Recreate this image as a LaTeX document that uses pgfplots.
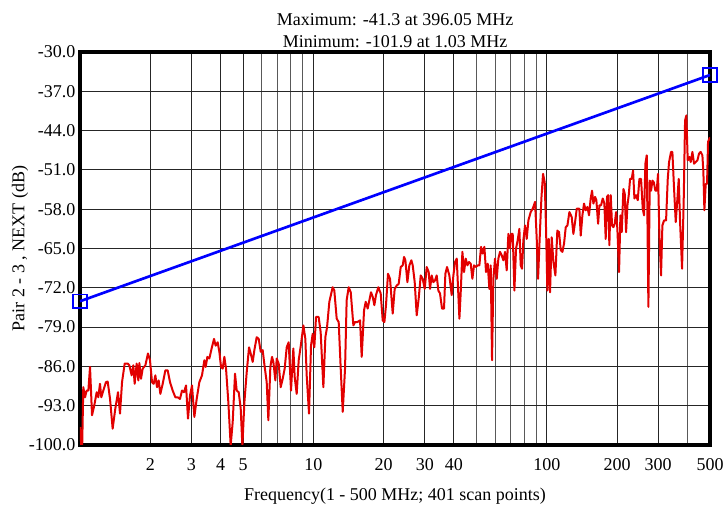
\documentclass[border=0pt]{standalone}
\usepackage{fontspec}
\setmainfont{Liberation Serif}
\usepackage{pgfplots}
\pgfplotsset{compat=1.18}
\definecolor{tracered}{RGB}{226,0,0}
\definecolor{limitblue}{RGB}{0,0,255}

\begin{document}
\begin{tikzpicture}[font=\fontsize{13.5}{16.5}\selectfont]
\begin{axis}[
    scale only axis,
    width=472.5pt, height=294.75pt,
    xmode=log,
    xmin=1, xmax=500,
    ymin=-100, ymax=-30,
    xtick={2,3,4,5,10,20,30,40,100,200,300,500},
    xticklabels={2,3,4,5,10,20,30,40,100,200,300,500},
    minor xtick={6,7,8,9,50,60,70,80,90,400},
    ytick={-100,-93,-86,-79,-72,-65,-58,-51,-44,-37,-30},
    /pgf/number format/assume math mode=true,
    yticklabel style={/pgf/number format/.cd, fixed, fixed zerofill, precision=1},
    xticklabel style={yshift=-6.5pt},
    major tick length=0pt, minor tick length=0pt,
    grid=both,
    major grid style={black!85, line width=0.75pt},
    minor grid style={black!65, line width=0.75pt},
    axis line style={line width=3pt},
    clip mode=individual,
    title={Maximum: -41.3 at 396.05 MHz\\Minimum: -101.9 at 1.03 MHz},
    title style={align=center, at={(axis description cs:0.5,1)}, anchor=south, yshift=-3pt, inner sep=0pt},
    xlabel={Frequency(1 - 500 MHz; 401 scan points)},
    every axis x label/.style={at={(axis description cs:0.5,-0.1298)}, anchor=center},
    ylabel={Pair 2 - 3 , NEXT (dB)},
    every axis y label/.style={at={(axis description cs:-0.0952,0.5)}, rotate=90, anchor=center},
]

% limit line
\addplot[color=limitblue, line width=2pt, mark=square, mark size=5pt,
    mark options={line width=1.3pt}]
    coordinates {(1,-74.4)(500,-34.1)};

% measured NEXT
\addplot[color=tracered, line width=1.5pt, mark=none, line join=round]
    coordinates {
    (1.000,-96.8)(1.020,-101.9)(1.033,-89.7)(1.051,-91.5)(1.068,-90.3)(1.086,-90.3)(1.104,-86.1)(1.126,-94.7)(1.152,-92.9)(1.179,-90.6)(1.198,-91.5)(1.218,-89.1)(1.234,-91.5)(1.259,-90.3)(1.292,-88.8)(1.314,-88.7)(1.345,-91.8)(1.380,-97.1)(1.417,-93.5)(1.455,-90.6)(1.484,-94.4)(1.514,-88.8)(1.554,-85.5)(1.601,-85.5)(1.627,-85.8)(1.665,-87.6)(1.692,-85.8)(1.715,-89.1)(1.749,-85.5)(1.778,-88.5)(1.796,-85.4)(1.826,-88.2)(1.856,-86.4)(1.906,-85.8)(1.956,-83.7)(1.995,-84.9)(2.035,-88.8)(2.069,-89.1)(2.103,-87.6)(2.138,-89.7)(2.173,-88.5)(2.209,-90.9)(2.261,-89.1)(2.321,-86.7)(2.375,-86.7)(2.430,-88.8)(2.495,-90.3)(2.562,-91.5)(2.621,-91.5)(2.682,-91.8)(2.735,-90.3)(2.790,-90.6)(2.846,-89.4)(2.902,-95.3)(2.960,-91.2)(3.019,-89.4)(3.090,-95.0)(3.162,-91.8)(3.246,-88.8)(3.332,-87.6)(3.410,-84.9)
    (3.455,-86.1)(3.512,-84.3)(3.582,-84.6)(3.665,-82.8)(3.751,-81.1)(3.813,-82.3)(3.889,-81.7)(3.954,-83.4)(4.019,-86.1)(4.086,-86.4)(4.154,-84.3)(4.223,-86.4)(4.321,-92.4)(4.421,-100.1)(4.510,-95.9)(4.615,-87.3)(4.691,-90.3)(4.785,-90.6)(4.881,-93.5)(4.962,-100.2)(5.061,-92.4)(5.179,-87.0)(5.299,-82.6)(5.387,-83.7)(5.494,-85.2)(5.585,-83.1)(5.715,-80.8)(5.829,-81.1)(5.946,-83.4)(6.062,-83.1)(6.184,-86.1)(6.307,-88.8)(6.411,-95.6)(6.539,-86.1)(6.648,-84.3)(6.736,-85.2)(6.870,-88.5)(6.961,-84.6)(7.100,-85.5)(7.242,-89.7)(7.386,-88.2)(7.533,-86.4)(7.684,-82.6)(7.834,-81.7)(8.017,-90.3)(8.204,-82.8)(8.313,-87.9)(8.479,-90.9)(8.648,-84.9)(8.850,-82.0)(9.056,-78.7)(9.235,-81.1)(9.357,-87.6)(9.575,-94.4)(9.766,-82.3)(9.927,-80.2)(10.09,-82.6)(10.26,-77.2)(10.53,-77.2)(10.74,-79.9)(11.03,-89.7)(11.25,-80.8)(11.44,-79.0)(11.70,-74.5)
    (12.09,-71.9)(12.29,-72.5)(12.58,-77.5)(12.83,-78.1)(13.09,-86.4)(13.35,-94.1)(13.66,-86.4)(13.88,-74.2)(14.16,-71.9)(14.45,-72.8)(14.83,-78.7)(15.08,-78.1)(15.43,-78.1)(15.84,-77.8)(16.10,-84.3)(16.48,-76.0)(16.75,-74.5)(17.08,-75.7)(17.37,-74.2)(17.65,-72.8)(17.95,-73.6)(18.24,-75.1)(18.54,-73.3)(18.97,-71.9)(19.42,-73.0)(19.81,-77.8)(20.14,-78.1)(20.46,-75.1)(20.87,-69.5)(21.29,-70.4)(21.86,-76.6)(22.29,-72.2)(22.74,-71.6)(23.19,-71.3)(23.66,-68.3)(24.13,-68.0)(24.45,-66.5)(24.77,-67.1)(25.27,-71.0)(25.76,-68.0)(26.28,-67.1)(26.63,-68.0)(27.16,-71.0)(27.70,-76.9)(28.25,-73.9)(28.82,-69.8)(29.39,-70.4)(29.98,-72.2)(30.57,-68.3)(31.18,-69.2)(31.59,-72.2)(32.11,-69.8)(32.65,-71.0)(33.19,-70.7)(33.74,-69.8)(34.30,-72.5)(34.86,-73.0)(35.56,-75.7)(36.27,-75.7)(36.75,-69.5)(37.36,-68.3)(38.23,-69.8)
    (39.12,-73.3)(39.78,-69.8)(40.44,-67.4)(41.11,-66.8)(42.21,-77.5)(42.76,-72.8)(43.47,-65.6)(44.19,-69.2)(44.92,-66.8)(45.66,-68.0)(46.42,-67.4)(47.19,-67.7)(47.97,-70.4)(48.76,-68.0)(49.57,-68.3)(50.55,-68.0)(51.40,-68.0)(52.25,-64.7)(53.11,-65.9)(54.00,-64.7)(54.89,-69.2)(55.81,-67.7)(56.73,-72.2)(57.48,-68.0)(58.24,-84.9)(59.01,-70.4)(59.99,-66.8)(60.98,-70.4)(61.99,-66.8)(63.02,-65.6)(64.07,-66.2)(65.13,-67.1)(66.21,-65.6)(67.31,-68.9)(68.43,-62.4)(69.56,-65.0)(70.25,-62.4)(71.42,-62.4)(72.61,-72.5)(73.81,-65.0)(75.03,-63.5)(76.27,-61.5)(77.27,-68.0)(78.30,-68.6)(79.34,-63.5)(80.65,-60.9)(81.99,-63.3)(83.35,-60.0)(85.29,-58.5)(87.00,-57.9)(89.03,-56.7)(90.50,-63.3)(91.70,-70.4)(93.52,-61.5)(94.76,-56.1)(96.32,-51.7)(97.92,-53.2)(99.22,-61.5)(100.5,-72.5)(101.9,-63.3)(103.2,-72.8)(104.9,-63.0)(106.7,-67.4)(108.8,-69.8)(110.9,-61.8)(112.8,-62.1)(114.7,-65.3)(116.6,-65.6)(118.5,-64.1)(120.5,-61.2)(122.5,-60.9)(124.9,-58.5)(127.8,-59.4)(129.9,-62.4)(132.1,-60.3)(134.3,-57.9)(137.8,-57.9)
    (139.7,-62.7)(142.0,-59.1)(144.3,-57.0)(146.7,-58.2)(149.2,-57.6)(151.6,-59.1)(154.1,-56.1)(156.2,-54.7)(158.3,-57.0)(160.9,-55.8)(163.0,-56.4)(165.8,-60.6)(168.0,-57.3)(170.7,-57.3)(173.6,-56.1)(176.4,-57.0)(178.7,-63.3)(181.1,-55.8)(182.9,-55.5)(185.3,-64.4)(187.8,-55.5)(190.3,-60.9)(192.8,-61.2)(195.4,-60.6)(198.0,-58.5)(200.5,-61.5)(203.9,-69.2)(206.6,-59.1)(209.3,-62.1)(212.8,-54.4)(215.6,-55.2)(218.5,-62.1)(221.4,-57.3)(224.3,-55.5)(227.3,-52.6)(231.0,-52.6)(234.1,-51.1)(237.2,-56.1)(241.1,-55.5)(245.1,-56.4)(249.2,-52.6)(253.3,-52.6)(257.5,-57.9)(260.9,-59.1)(264.3,-49.9)(267.9,-48.4)(272.3,-75.4)(276.0,-52.9)(279.6,-54.7)(283.3,-52.9)(287.1,-53.2)(291.7,-54.7)(295.6,-54.7)(299.5,-51.7)(303.5,-62.7)(308.5,-69.8)(312.6,-60.9)(317.8,-60.0)(324.2,-60.0)(329.6,-52.6)(333.9,-49.6)(340.5,-47.8)(345.0,-47.8)(350.8,-54.4)(356.6,-60.3)(362.5,-56.1)(367.3,-52.6)(372.2,-60.3)(379.6,-68.6)(385.9,-56.1)(391.0,-42.2)(396.05,-41.3)(401.3,-49.3)(408.0,-48.7)(413.4,-49.6)(420.3,-47.8)(427.2,-49.9)(434.3,-49.6)(441.5,-49.3)(448.8,-48.1)(456.2,-47.8)(463.8,-48.4)(468.4,-51.4)(473.0,-58.2)(479.3,-53.5)(485.6,-53.5)(490.4,-46.0)(500,-45.2)
    };
\end{axis}
\pgfresetboundingbox
\path[use as bounding box] ([shift={(-60pt,-45pt)}]current axis.south west) rectangle ([shift={(10.5pt,39pt)}]current axis.north east);
\end{tikzpicture}
\end{document}
